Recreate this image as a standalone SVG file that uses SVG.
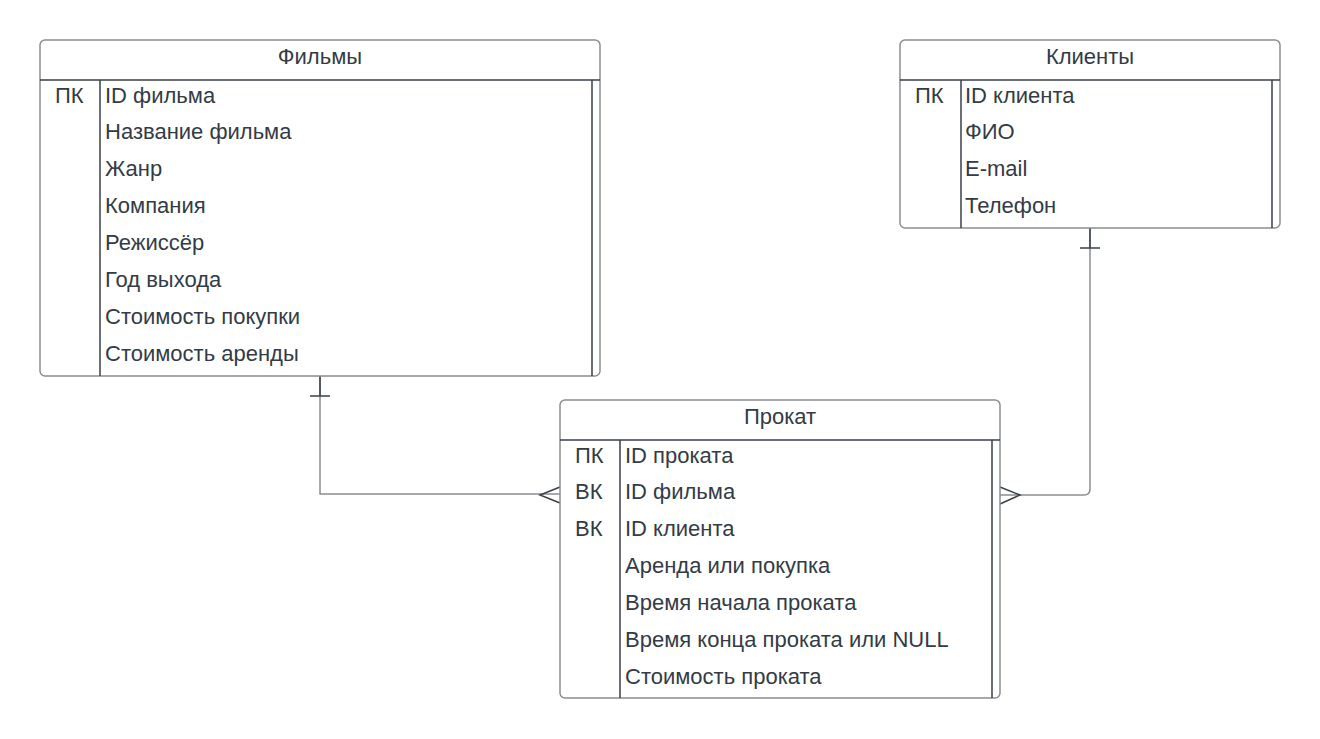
<svg xmlns="http://www.w3.org/2000/svg" width="1320" height="739" viewBox="0 0 1320 739">
<style>
.frame{fill:#fff;stroke:#8a8d92;stroke-width:1.5}
.in{stroke:#3a4048;stroke-width:1.5;fill:none}
.t{font-family:"Liberation Sans",Arial,sans-serif;font-size:22px;fill:#333b45}
.h{font-family:"Liberation Sans",Arial,sans-serif;font-size:22px;fill:#333b45;text-anchor:middle}
.c{stroke:#8a8d92;stroke-width:1.5;fill:none}
.k{stroke:#3a4048;stroke-width:1.5;fill:none}
</style>
<rect width="1320" height="739" fill="#fff"/>
<g id="connectors">
<path class="c" d="M320 376 V494 H560"/>
<path class="k" d="M320 376 V396 M310 396 H330"/>
<path class="k" d="M560 487 L540 495 L560 503"/>
<path class="c" d="M1000 495 H1084 Q1090 495 1090 489 V228"/>
<path class="k" d="M1090 228 V248 M1080 248 H1100"/>
<path class="k" d="M1000 487 L1020 495 L1000 504"/>
</g>
<g id="films">
<rect class="frame" x="40" y="40" width="560" height="336" rx="5"/>
<path class="in" d="M40 80 H600 M100 80 V376 M592 80 V376"/>
<text class="h" x="320" y="64">Фильмы</text>
<text class="t" x="55" y="103">ПК</text>
<text class="t" x="105" y="103">ID фильма</text>
<text class="t" x="105" y="139">Название фильма</text>
<text class="t" x="105" y="176">Жанр</text>
<text class="t" x="105" y="213">Компания</text>
<text class="t" x="105" y="250">Режиссёр</text>
<text class="t" x="105" y="287">Год выхода</text>
<text class="t" x="105" y="324">Стоимость покупки</text>
<text class="t" x="105" y="361">Стоимость аренды</text>
</g>
<g id="clients">
<rect class="frame" x="900" y="40" width="380" height="188" rx="5"/>
<path class="in" d="M900 80 H1280 M961 80 V228 M1272 80 V228"/>
<text class="h" x="1090" y="64">Клиенты</text>
<text class="t" x="915" y="103">ПК</text>
<text class="t" x="965" y="103">ID клиента</text>
<text class="t" x="965" y="139">ФИО</text>
<text class="t" x="965" y="176">E-mail</text>
<text class="t" x="965" y="213">Телефон</text>
</g>
<g id="prokat">
<rect class="frame" x="560" y="400" width="440" height="298" rx="5"/>
<path class="in" d="M560 440 H1000 M620 440 V698 M992 440 V698"/>
<text class="h" x="780" y="424">Прокат</text>
<text class="t" x="575" y="463">ПК</text>
<text class="t" x="575" y="499">ВК</text>
<text class="t" x="575" y="536">ВК</text>
<text class="t" x="625" y="463">ID проката</text>
<text class="t" x="625" y="499">ID фильма</text>
<text class="t" x="625" y="536">ID клиента</text>
<text class="t" x="625" y="573">Аренда или покупка</text>
<text class="t" x="625" y="610">Время начала проката</text>
<text class="t" x="625" y="647">Время конца проката или NULL</text>
<text class="t" x="625" y="684">Стоимость проката</text>
</g>
</svg>
